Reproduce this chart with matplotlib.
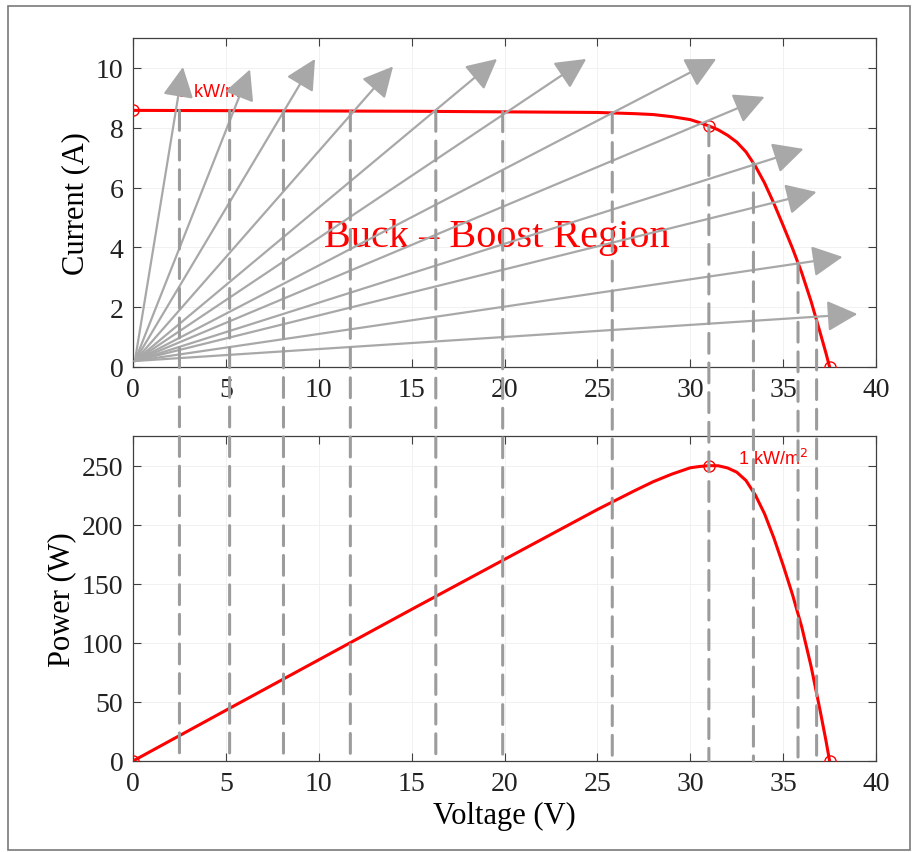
import matplotlib
matplotlib.use("Agg")
import matplotlib.pyplot as plt
import numpy as np
from matplotlib.patches import ConnectionPatch, FancyArrowPatch, Rectangle

# I-V curve at 1 kW/m^2
voltage = [0, 5, 10, 15, 20, 25, 27, 28, 29, 29.5, 30, 30.5, 31, 31.5, 32,
           32.5, 33, 33.5, 34, 34.5, 35, 35.5, 36, 36.5, 37, 37.3, 37.5]
current = [8.58, 8.57, 8.56, 8.55, 8.53, 8.51, 8.47, 8.44, 8.37, 8.32, 8.27,
           8.17, 8.06, 7.93, 7.75, 7.52, 7.19, 6.72, 6.15, 5.47, 4.73, 3.97,
           3.15, 2.2, 1.13, 0.47, 0]
power = [0, 42.9, 85.6, 128.3, 170.6, 212.8, 228.7, 236.3, 242.7, 245.4,
         248.1, 249.2, 249.9, 249.8, 248.0, 244.4, 237.3, 225.1, 209.1,
         188.7, 165.6, 140.9, 113.4, 80.3, 41.8, 17.5, 0]

# marked points: Isc, MPP, Voc
mark_v = [0, 31.0, 37.5]
mark_i = [8.58, 8.06, 0]
mark_p = [0, 249.9, 0]

# load lines (arrows) drawn from the origin, tip coordinates
arrow_tip_v = [2.69, 6.30, 9.80, 14.0, 19.6, 24.4, 31.4, 34.0, 36.1, 36.8, 38.2, 39.0]
arrow_tip_i = [10.03, 9.95, 10.30, 10.05, 10.30, 10.30, 10.30, 9.03, 7.29, 5.85, 3.68, 1.77]
arrow_origin = (0.1, 0.2)

# operating voltages projected down to the P-V curve
dash_v = [2.5, 5.2, 8.1, 11.7, 16.3, 19.9, 25.8, 31.0, 33.4, 35.8, 36.8]

RED = "#ff0000"
GREY = "#a8a8a8"
AX_COL = "#404040"

plt.rcParams["font.family"] = ["Liberation Serif", "DejaVu Serif"]

fig = plt.figure(figsize=(9.18, 8.53), dpi=100)
ax1 = fig.add_axes([0.1449, 0.5686, 0.8094, 0.3857])
ax2 = fig.add_axes([0.1449, 0.1067, 0.8094, 0.381])

for ax in (ax1, ax2):
    ax.set_xlim(0, 40)
    ax.set_xticks(range(0, 41, 5))
    ax.tick_params(direction="in", top=True, right=True, length=6,
                   width=0.8, colors=AX_COL, labelcolor="#222222",
                   labelsize=20, pad=7)
    for s in ax.spines.values():
        s.set_color(AX_COL)
        s.set_linewidth(0.9)
    ax.grid(True, color="#efefef", linewidth=0.6)
    ax.set_axisbelow(True)

ax1.set_ylim(0, 11)
ax1.set_yticks(range(0, 11, 2))
ax2.set_ylim(0, 275)
ax2.set_yticks(range(0, 251, 50))

ax1.set_ylabel("Current (A)", fontsize=22)
ax2.set_ylabel("Power (W)", fontsize=22)
ax2.set_xlabel("Voltage (V)", fontsize=22, labelpad=4)

# curves
ax1.plot(voltage, current, color=RED, lw=2.2, zorder=3, solid_joinstyle="round")
ax2.plot(voltage, power, color=RED, lw=2.2, zorder=3, solid_joinstyle="round")
ax1.plot(mark_v, mark_i, "o", mfc="none", mec=RED, ms=8, mew=1.0, zorder=4)
ax2.plot(mark_v, mark_p, "o", mfc="none", mec=RED, ms=8, mew=1.0, zorder=4)

# dashed projection lines, from the I-V curve down to the bottom axis
for v in dash_v:
    i_top = np.interp(v, voltage, current)
    cp = ConnectionPatch(xyA=(v, i_top), coordsA=ax1.transData,
                         xyB=(v, 0), coordsB=ax2.transData,
                         color="#9c9c9c", lw=2.2, linestyle=(0, (6.5, 3.2)),
                         zorder=2)
    fig.add_artist(cp)

# labels
ax1.text(2.42, 9.03, "1 kW/m$^2$", color=RED, fontsize=13,
         family=["Liberation Sans", "DejaVu Sans"], va="baseline", zorder=3)
ax2.text(32.57, 251.7, "1 kW/m$^2$", color=RED, fontsize=13,
         family=["Liberation Sans", "DejaVu Sans"], va="baseline", zorder=3)
ax1.text(10.3, 4.35, "Buck \u2013 Boost Region", color=RED, fontsize=29,
         va="center", ha="left", zorder=3)

# load-line arrows
for tv, ti in zip(arrow_tip_v, arrow_tip_i):
    arr = FancyArrowPatch(arrow_origin, (tv, ti),
                          arrowstyle="-|>,head_length=0.75,head_width=0.38",
                          mutation_scale=25, color=GREY, lw=1.6,
                          shrinkA=0, shrinkB=0, zorder=5, clip_on=False)
    ax1.add_patch(arr)

# outer frame
fig.add_artist(Rectangle((8 / 918, 1 - 851 / 853), 902 / 918, 844 / 853,
                         transform=fig.transFigure, fill=False,
                         edgecolor="#7a7a7a", lw=1.2))

fig.savefig("out.png", dpi=100)
